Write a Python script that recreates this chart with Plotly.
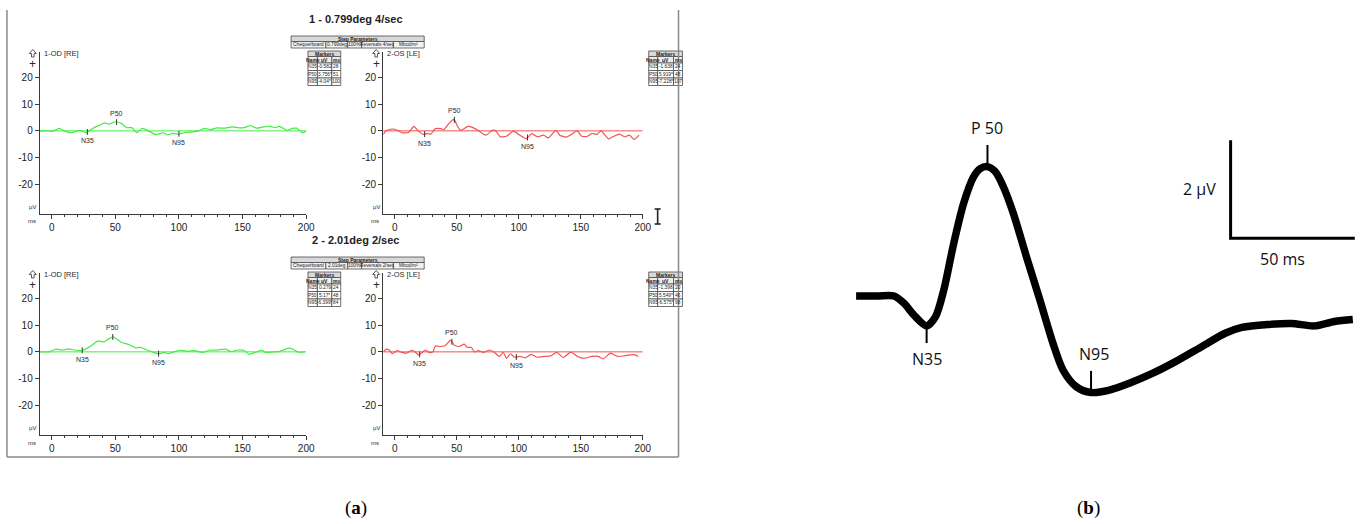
import numpy as np
import plotly.graph_objects as go

W, H = 1370, 524

# ---------------- PERG recordings (latency in ms, amplitude in µV) ----------------
OD1_T = [-9, -4, 0, 3, 6, 10, 15, 19, 21.5, 24, 27, 31, 34.5, 38, 41.7, 45, 50, 55, 59, 63,
         67, 71, 76, 82, 87.5, 91, 95, 99, 104, 110, 115, 120, 125, 130, 135.5, 142, 147, 152,
         156, 161, 166.5, 172, 175.6, 179, 185, 189, 192.5, 197, 200]
OD1_V = [-0.1, 0.1, -0.2, 0.3, 0.9, 0.0, -0.7, -0.2, 0.2, -0.1, -0.7, 0.5, 1.5, 2.2, 3.0, 2.5,
         3.4, 2.7, 1.2, 1.2, -0.7, 0.9, 0.0, -1.4, -0.7, -1.5, -0.9, -1.2, -0.7, -0.4, -0.1, 0.9,
         0.5, 1.1, 1.0, 1.5, 1.1, 1.3, 2.0, 1.0, 1.5, 1.7, 1.2, 1.7, 0.2, 0.9, 1.0, -0.7, -0.1]

OS1_T = [-9.4, -7, -2, 2, 5.7, 11, 15.4, 18.8, 23, 26.5, 29, 32.6, 37, 39.6, 43, 46.6, 48, 50.8,
         53.4, 59, 63, 67, 73.4, 78.6, 81, 85, 90, 95.6, 100.8, 106, 110.4, 115, 120, 123.7, 130,
         133, 138.5, 142.4, 147, 150.8, 155.5, 158.6, 163, 166.4, 172.4, 175.8, 181.5, 185.4,
         189.3, 193, 197]
OS1_V = [-1.3, 0.0, 0.7, 0.2, -0.7, -0.6, 1.7, 0.0, -1.3, -1.0, -1.2, 0.85, 0.85, 0.5, 2.4, 4.1,
         4.1, 1.5, 0.2, 1.7, 1.2, 0.2, -1.6, 0.2, 0.2, -2.2, -2.0, -0.1, -1.6, -2.9, -1.0, -2.2,
         -1.6, -2.6, 0.2, -1.6, -2.3, -1.3, 0.0, -2.0, -2.0, -1.0, -1.3, 0.0, -3.0, -2.2, -1.2,
         -2.2, -1.6, -3.2, -1.6]

OD2_T = [-9, -2, 3.4, 8.5, 13.7, 17.6, 23.6, 28, 31.9, 36.3, 41, 44.3, 48.2, 51.3, 55, 59, 63,
         66, 69.4, 72.8, 76, 79.8, 83.7, 88.8, 91.5, 96.6, 101.8, 107, 112, 118.6, 123.8, 130,
         136.8, 140.7, 145.9, 151, 155, 160, 165, 167.9, 174, 179.5, 186, 189.9, 193.8, 199]
OD2_V = [0.0, 0.0, 1.0, 0.7, 1.1, 0.7, 0.5, 1.4, 2.6, 4.1, 3.7, 4.7, 5.6, 4.7, 3.5, 3.0, 2.2,
         1.5, 1.7, 1.1, 0.5, -0.1, -0.7, -0.2, -0.7, 0.1, 0.6, 0.2, 0.5, -0.2, 0.6, 0.7, 1.0,
         0.1, 0.7, 0.6, -0.9, -0.2, 0.6, -0.2, 0.0, 0.2, 1.4, 1.0, -0.1, 0.0]

OS2_T = [-9.3, -7, -4.6, -2, 1.8, 5.7, 9.5, 13.4, 16.8, 19.3, 22, 24.5, 27.6, 30.7, 32.7, 36.6,
         40.5, 45, 47.7, 52, 55.9, 58.5, 61.6, 64.2, 67.5, 71.4, 76.5, 80.4, 84.3, 87.4, 90, 93.3,
         96.6, 101, 105.4, 110, 114.7, 120.4, 125.5, 130.7, 135.8, 142, 147.4, 152.6, 159, 164,
         168, 174, 179.6, 184.8, 190, 193.8, 196.4]
OS2_V = [0.0, 1.0, 0.7, -0.7, 0.5, -0.2, -0.5, 0.6, -0.2, -1.2, -0.2, 0.7, -0.2, 0.0, 2.2, 2.0,
         2.3, 4.4, 2.6, 2.0, 2.9, 1.7, 1.7, 0.0, 0.5, -0.2, 0.7, -0.2, -1.7, -0.2, -2.4, -0.7,
         -2.0, -1.7, -2.2, -0.9, -2.0, -1.7, -1.5, -0.2, -2.1, -0.1, -1.7, -2.4, -1.7, -1.7, -2.6,
         -0.5, -1.7, -1.5, -1.1, -1.1, -1.7]

# marker tables: (name, amplitude µV, latency ms)
OD1_MARKS = [("N35", "-0.582", "28"), ("P50", "3.756*", "51"), ("N95", "-4.04*", "100")]
OS1_MARKS = [("N35", "-1.638", "24"), ("P50", "5.919*", "48"), ("N95", "-7.228*", "107")]
OD2_MARKS = [("N35", "0.279", "24"), ("P50", "5.17*", "48"), ("N95", "-6.399*", "84")]
OS2_MARKS = [("N35", "-1.398", "20"), ("P50", "5.549*", "46"), ("N95", "-6.575*", "98")]

STEP1 = ["Chequerboard", "0.799deg", "100%", "Reversals 4/sec", "Mbcd/m²"]
STEP2 = ["Chequerboard", "2.01deg", "100%", "Reversals 2/sec", "Mbcd/m²"]
TITLES = ["1 - 0.799deg 4/sec", "2 - 2.01deg 2/sec"]

X_TICKS = [0, 50, 100, 150, 200]
Y_TICKS = [-20, -10, 0, 10, 20]

# ---------------- schematic PERG waveform ----------------
WAVE_T = [6.7, 15.3, 22, 26, 30, 35.1, 38.7, 42, 46, 50, 54, 56.7, 59.6, 62.7, 66, 70, 75.3,
          80.7, 86, 90, 95.3, 101.3, 108.7, 116.7, 126, 135.3, 146, 155.3, 162, 172.7, 182,
          191.3, 199.3, 206.7]
WAVE_V = [0.0, 0.0, 0.0, -0.15, -0.39, -0.61, -0.42, 0.12, 1.07, 1.89, 2.43, 2.6, 2.64, 2.54,
          2.23, 1.69, 0.80, -0.08, -0.97, -1.51, -1.85, -1.97, -1.92, -1.78, -1.58, -1.34,
          -1.03, -0.76, -0.64, -0.58, -0.56, -0.61, -0.52, -0.48]
WAVE_PEAKS = [("N35", 35.1, -0.61), ("P 50", 59.6, 2.64), ("N95", 101.3, -1.97)]
SCALE_T = [157.5, 157.5, 207.5]
SCALE_V = [3.18, 1.18, 1.18]

GREEN = "#45ec45"
RED = "#f25454"
AXC = "#3a3a3a"
TXT = "#222222"
SANS = "Liberation Sans, Arial, sans-serif"


def fx(px):
    return px / W


def fy(py):
    return 1 - py / H


fig = go.Figure()
shapes = []
annotations = []


def note(x, y, text, size, xanchor="center", yanchor="middle", color=TXT,
         family=SANS, xref="paper", yref="paper"):
    annotations.append(dict(x=x, y=y, xref=xref, yref=yref, text=text, showarrow=False,
                            xanchor=xanchor, yanchor=yanchor,
                            font=dict(size=size, color=color, family=family)))


def cell(x0, x1, y0, y1, text, bold=False, fill="#ffffff", size=5):
    shapes.append(dict(type="rect", xref="paper", yref="paper", x0=fx(x0), x1=fx(x1),
                       y0=fy(y1), y1=fy(y0), line=dict(color="#4a4a4a", width=0.8),
                       fillcolor=fill, layer="above"))
    note(fx((x0 + x1) / 2), fy((y0 + y1) / 2), f"<b>{text}</b>" if bold else text, size)


def step_table(y_top, values):
    xs = [293, 328, 350, 364, 396, 427]
    cell(xs[0], xs[-1], y_top, y_top + 5.5, "Step Parameters", bold=True, fill="#d9d9d9")
    for i, v in enumerate(values):
        cell(xs[i], xs[i + 1], y_top + 5.5, y_top + 12, v, fill="#f2f2f2", size=4.8)


def marker_table(xs, y_top, marks):
    ys = [y_top + d for d in (0, 5.5, 12, 19.5, 27, 34.5)]
    cell(xs[0], xs[-1], ys[0], ys[1], "Markers", bold=True, fill="#d9d9d9")
    for i, h in enumerate(["Name", "uV", "ms"]):
        cell(xs[i], xs[i + 1], ys[1], ys[2], h, bold=True, fill="#ececec")
    for r, row in enumerate(marks):
        for i, v in enumerate(row):
            cell(xs[i], xs[i + 1], ys[r + 2], ys[r + 3], v, size=4.8)


def up_arrow(cx, ty):
    """Hollow up-arrow glyph drawn above an amplitude axis."""
    pts = [(cx - 3.5, ty + 4), (cx, ty), (cx + 3.5, ty + 4), (cx + 1.3, ty + 4),
           (cx + 1.3, ty + 7.5), (cx - 1.3, ty + 7.5), (cx - 1.3, ty + 4)]
    path = "M " + " L ".join(f"{fx(a):.5f},{fy(b):.5f}" for a, b in pts) + " Z"
    shapes.append(dict(type="path", xref="paper", yref="paper", path=path,
                       line=dict(color="#444", width=0.9), fillcolor="white"))


# ---------------- four recording panels ----------------
panels = [
    dict(t=OD1_T, v=OD1_V, marks=OD1_MARKS, color=GREEN, xpx=(40, 308.2), xmin=-9.4,
         top=52, label="1-OD [RE]", tab_x=[310, 319.5, 334, 343]),
    dict(t=OS1_T, v=OS1_V, marks=OS1_MARKS, color=RED, xpx=(385.7, 647), xmin=-9.46,
         top=52, label="2-OS [LE]", tab_x=[653, 662, 678, 687]),
    dict(t=OD2_T, v=OD2_V, marks=OD2_MARKS, color=GREEN, xpx=(40, 308.2), xmin=-9.4,
         top=273, label="1-OD [RE]", tab_x=[310, 319.5, 334, 343]),
    dict(t=OS2_T, v=OS2_V, marks=OS2_MARKS, color=RED, xpx=(385.7, 647), xmin=-9.46,
         top=273, label="2-OS [LE]", tab_x=[653, 662, 678, 687]),
]

Y_RANGE = [-30.8, 29.4]
PANEL_H = 161.5

layout_axes = {}
for k, p in enumerate(panels, start=1):
    xa = "x" if k == 1 else f"x{k}"
    ya = "y" if k == 1 else f"y{k}"
    top, bot = p["top"], p["top"] + PANEL_H
    layout_axes["xaxis" if k == 1 else f"xaxis{k}"] = dict(
        domain=[fx(p["xpx"][0]), fx(p["xpx"][1])], range=[p["xmin"], 200], anchor=ya,
        showline=True, linecolor=AXC, linewidth=1, ticks="outside", ticklen=4,
        tickcolor=AXC, tickvals=X_TICKS, ticktext=[str(v) for v in X_TICKS],
        tickfont=dict(size=10, color=TXT, family=SANS),
        minor=dict(dtick=10, tick0=0, ticks="outside", ticklen=2, tickcolor=AXC),
        showgrid=False, zeroline=False, fixedrange=True)
    layout_axes["yaxis" if k == 1 else f"yaxis{k}"] = dict(
        domain=[fy(bot), fy(top)], range=Y_RANGE, anchor=xa,
        showline=True, linecolor=AXC, linewidth=1, ticks="outside", ticklen=4,
        tickcolor=AXC, tickvals=Y_TICKS, ticktext=[str(v) for v in Y_TICKS],
        tickfont=dict(size=10, color=TXT, family=SANS),
        showgrid=False, zeroline=False, fixedrange=True)

    # baseline and response
    fig.add_trace(go.Scatter(x=[p["xmin"], 200], y=[0, 0], mode="lines", xaxis=xa, yaxis=ya,
                             line=dict(color=p["color"], width=1), hoverinfo="skip"))
    fig.add_trace(go.Scatter(x=p["t"], y=p["v"], mode="lines", xaxis=xa, yaxis=ya,
                             line=dict(color=p["color"], width=1.2, shape="spline",
                                       smoothing=0.6), hoverinfo="skip"))

    # marker ticks and names
    for name, _, ms in p["marks"]:
        lat = float(ms)
        amp = float(np.interp(lat, p["t"], p["v"]))
        fig.add_trace(go.Scatter(x=[lat, lat], y=[amp - 1.1, amp + 1.1], mode="lines",
                                 xaxis=xa, yaxis=ya, line=dict(color="#333333", width=1),
                                 hoverinfo="skip"))
        if name == "P50":
            note(lat, amp + 1.3, name, 7, yanchor="bottom", xref=xa, yref=ya, color="#2a2a2a")
        else:
            note(lat, amp - 1.3, name, 7, yanchor="top", xref=xa, yref=ya, color="#2a2a2a")

    # axis decorations
    ax_x = p["xpx"][0]
    note(fx(ax_x + 2), fy(top + 1), p["label"], 7.5, xanchor="left", color="#2a2a2a")
    up_arrow(ax_x - 7, top - 2.5)
    note(fx(ax_x - 7), fy(top + 11.5), "+", 12, color="#2a2a2a")
    note(fx(ax_x - 7), fy(bot - 6.5), "µV", 6, color="#2a2a2a")
    note(fx(ax_x - 8), fy(bot + 8), "ms", 6, color="#2a2a2a")

    # marker table
    marker_table(p["tab_x"], top - 1, p["marks"])

# step parameter tables and block titles
step_table(36, STEP1)
step_table(257, STEP2)
note(fx(358), fy(19), f"<b>{TITLES[0]}</b>", 11)
note(fx(358), fy(240), f"<b>{TITLES[1]}</b>", 11)

# window frame
for x0, y0, x1, y1 in [(7, 10, 7, 457), (7, 457, 683, 457), (683, 10, 683, 457)]:
    shapes.append(dict(type="line", xref="paper", yref="paper", x0=fx(x0), x1=fx(x1),
                       y0=fy(y0), y1=fy(y1), line=dict(color="#8a8a8a", width=1.5)))

# text cursor
for x0, y0, x1, y1 in [(662, 209, 662, 224), (659, 209, 665, 209), (659, 224, 665, 224)]:
    shapes.append(dict(type="line", xref="paper", yref="paper", x0=fx(x0), x1=fx(x1),
                       y0=fy(y0), y1=fy(y1), line=dict(color="#222", width=1.6)))

# ---------------- schematic panel ----------------
layout_axes["xaxis5"] = dict(domain=[fx(845), fx(1370)], range=[0, 210], anchor="y5",
                             visible=False, fixedrange=True)
layout_axes["yaxis5"] = dict(domain=[fy(420), fy(100)], range=[-2.531, 4.0], anchor="x5",
                             visible=False, fixedrange=True)

fig.add_trace(go.Scatter(x=WAVE_T, y=WAVE_V, mode="lines", xaxis="x5", yaxis="y5",
                         line=dict(color="#000000", width=7.5, shape="spline", smoothing=0.8),
                         hoverinfo="skip"))
fig.add_trace(go.Scatter(x=SCALE_T, y=SCALE_V, mode="lines", xaxis="x5", yaxis="y5",
                         line=dict(color="#000000", width=3), hoverinfo="skip"))

WAVE_FONT = "Open Sans, Noto Sans, sans-serif"
for name, t, v in WAVE_PEAKS:
    if name.startswith("P"):
        y_end = v + 0.44
        note(t, y_end + 0.08, name, 16, yanchor="bottom", xref="x5", yref="y5",
             color="#111", family=WAVE_FONT)
    elif name == "N35":
        y_end = v - 0.35
        note(t, y_end - 0.06, name, 16, yanchor="top", xref="x5", yref="y5",
             color="#111", family=WAVE_FONT)
    else:
        y_end = v + 0.44
        note(t + 1, y_end + 0.08, name, 16, yanchor="bottom", xref="x5", yref="y5",
             color="#111", family=WAVE_FONT)
    fig.add_trace(go.Scatter(x=[t, t], y=[v, y_end], mode="lines", xaxis="x5", yaxis="y5",
                             line=dict(color="#000000", width=2), hoverinfo="skip"))

note(SCALE_T[0] - 5, (SCALE_V[0] + SCALE_V[1]) / 2, "2 µV", 16, xanchor="right",
     xref="x5", yref="y5", color="#111", family=WAVE_FONT)
note((SCALE_T[1] + SCALE_T[2]) / 2 - 4, SCALE_V[1] - 0.15, "50 ms", 16, yanchor="top",
     xref="x5", yref="y5", color="#111", family=WAVE_FONT)

# panel letters
note(fx(358), fy(508), "(<b>a</b>)", 19, family="Liberation Serif, serif", color="#000")
note(fx(1096), fy(508), "(<b>b</b>)", 19, family="Liberation Serif, serif", color="#000")

fig.update_layout(width=W, height=H, margin=dict(l=0, r=0, t=0, b=0),
                  paper_bgcolor="white", plot_bgcolor="white", showlegend=False,
                  shapes=shapes, annotations=annotations, **layout_axes)

fig.write_html("out.html", config={"displayModeBar": False})
